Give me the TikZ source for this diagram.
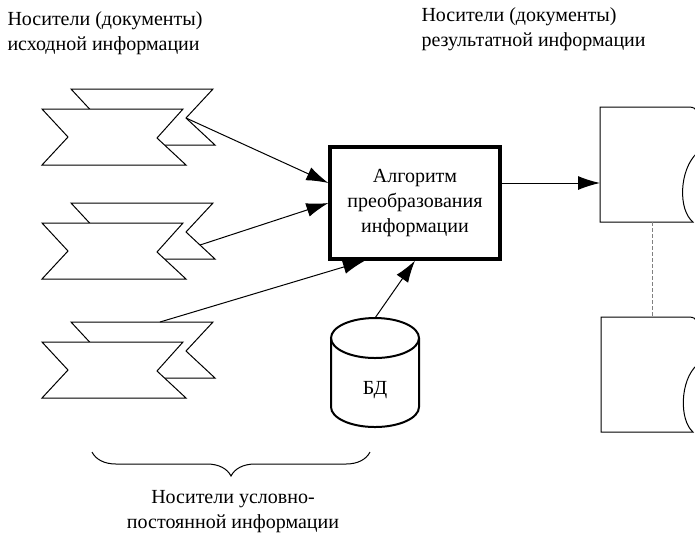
\documentclass[tikz,border=0pt]{standalone}
\usepackage{fontspec}
\setmainfont{Liberation Serif}
\usetikzlibrary{arrows.meta,positioning,decorations.pathreplacing}
\tikzset{
  tape/.pic={
    \draw[fill=white] (29,-20) -- (171,-20) -- (144,9) -- (173,36) -- (29,36) -- (55,8) -- cycle;
    \draw[fill=white] (0,0) -- (141,0) -- (115,29) -- (144,56) -- (0,56) -- (26,28) -- cycle;
    \coordinate (-notch) at (144,9);
    \coordinate (-side) at (158,22);
    \coordinate (-top) at (118,-20);
  }
}
\begin{document}
\begin{tikzpicture}[x=0.5pt,y=-0.5pt,line width=0.5pt,
  every node/.style={font=\fontsize{10}{12.5}\selectfont},
  arr/.style={-{Latex[length=11pt,width=7pt]}},
  algo/.style={draw,line width=1.6pt,minimum width=85pt,minimum height=56pt,align=center}]
  \useasboundingbox (0,0) rectangle (695,538);
   \node [anchor=north west,align=left,inner sep=0pt] (src) at (7,11) {Носители (документы)\\исходной информации};
   \node [anchor=north west,align=left,inner sep=0pt] (res) at (421,7) {Носители (документы)\\результатной информации};
   \node [algo] (box) at (415,203) {Алгоритм\\преобразования\\информации};
   \pic (t1) at (42,109) {tape};
   \pic (t2) at (42,223) {tape};
   \pic (t3) at (42,342) {tape};
   % database
   \draw [line width=1pt,fill=white] (331,338) -- (331,407) arc [start angle=180,end angle=360,x radius=22pt,y radius=10pt] -- (419,338);
   \draw [line width=1pt] (375,338) ellipse [x radius=22pt,y radius=10pt];
   \node (bd) at (375,390) {БД};
   \coordinate (bdtop) at (375,318);
   % output documents
   \draw (697,153) .. controls (679,170) and (678,210) .. (693,222) -- (600,222) -- (600,107) -- (689,107) .. controls (694,107) and (696,109) .. (697,112);
   \draw (697,365) .. controls (680,380) and (679,420) .. (693,432) -- (601,432) -- (601,317) -- (689,317) .. controls (694,317) and (696,319) .. (697,322);
   \coordinate (d1in) at (600,183);
   \coordinate (d1b) at (652,222);
   \coordinate (d2t) at (652,317);
   \draw [gray,dash pattern=on 2pt off 1pt] (d1b) -- (d2t);
   \path [arr]
    (t1-notch) edge ([yshift=10pt]box.west)
    (t2-side)  edge (box.west)
    (t3-top)   edge ([xshift=-25pt]box.south)
    (bdtop)    edge (box.south)
    ([yshift=10pt]box.east) edge (d1in);
   % brace
   \coordinate (bl) at (92,452);
   \coordinate (br) at (370,452);
   \draw [decorate,decoration={brace,mirror,amplitude=12pt}] (bl) -- (br);
   \node [align=center] (fix) at (233,512) {Носители условно-\\постоянной информации};
\end{tikzpicture}
\end{document}
